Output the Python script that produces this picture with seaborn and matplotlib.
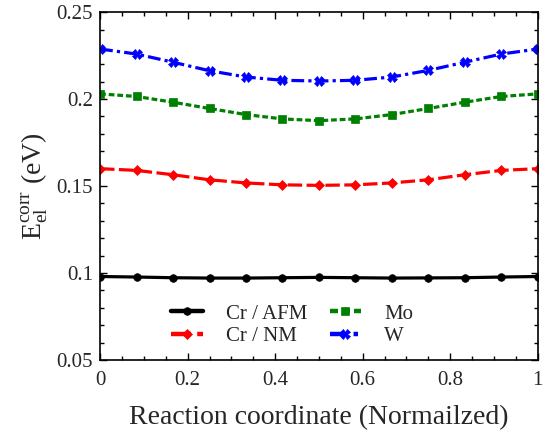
import numpy as np
import pandas as pd
import matplotlib
matplotlib.use("Agg")
import matplotlib.pyplot as plt
import seaborn as sns
from matplotlib.ticker import MultipleLocator, FuncFormatter

# Reaction coordinate (normalized images along the path)
coord = [0, 1/12, 2/12, 3/12, 4/12, 5/12, 6/12, 7/12, 8/12, 9/12, 10/12, 11/12, 1]

cr_afm = [0.0980, 0.0977, 0.0973, 0.0971, 0.0971, 0.0973, 0.0975, 0.0973, 0.0971, 0.0972, 0.0973, 0.0977, 0.0980]
cr_nm = [0.1600, 0.1590, 0.1565, 0.1536, 0.1518, 0.1507, 0.1504, 0.1507, 0.1518, 0.1536, 0.1565, 0.1590, 0.1600]
mo = [0.2030, 0.2015, 0.1982, 0.1946, 0.1911, 0.1886, 0.1876, 0.1886, 0.1911, 0.1946, 0.1982, 0.2015, 0.2030]
w = [0.2288, 0.2259, 0.2212, 0.2163, 0.2127, 0.2108, 0.2104, 0.2108, 0.2127, 0.2165, 0.2212, 0.2259, 0.2288]

labels = ["Cr / AFM", "Cr / NM", "Mo", "W"]

sns.set_theme(style="ticks")
plt.rcParams["font.family"] = ["Liberation Serif", "DejaVu Serif"]
plt.rcParams["mathtext.fontset"] = "custom"
plt.rcParams["mathtext.rm"] = "Liberation Serif"
plt.rcParams["mathtext.it"] = "Liberation Serif:italic"

fig = plt.figure(figsize=(5.47, 4.33), dpi=100)
ax = fig.add_axes([0.183, 0.1686, 0.8, 0.8034])

styles = [
    dict(color="black", marker="o", markersize=5.5, dashes=None),
    dict(color="red", marker="D", markersize=5.5, dashes=(4.5, 1.4)),
    dict(color="green", marker="s", markersize=6, dashes=(1.8, 0.9)),
    dict(color="blue", marker="X", markersize=6.5, dashes=(4.0, 1.3, 1.0, 1.3)),
]

for vals, lab, st in zip([cr_afm, cr_nm, mo, w], labels, styles):
    df = pd.DataFrame({"x": coord, "y": vals})
    sns.lineplot(data=df, x="x", y="y", ax=ax, color=st["color"], marker=st["marker"],
                 markersize=st["markersize"], markeredgewidth=0.5,
                 markeredgecolor=st["color"], linewidth=2.3, label=lab)
    if st["dashes"] is not None:
        ax.lines[-1].set_dashes(st["dashes"])

ax.set_xlim(0, 1)
ax.set_ylim(0.05, 0.25)
ax.xaxis.set_major_locator(MultipleLocator(0.2))
ax.xaxis.set_minor_locator(MultipleLocator(0.05))
ax.yaxis.set_major_locator(MultipleLocator(0.05))
ax.yaxis.set_minor_locator(MultipleLocator(0.01))
ax.xaxis.set_major_formatter(FuncFormatter(lambda v, p: f"{v:g}"))
ax.yaxis.set_major_formatter(FuncFormatter(lambda v, p: f"{round(v, 3):g}"))

ax.tick_params(which="both", direction="in", top=True, right=True, labelsize=15, color="black")
ax.tick_params(axis="x", which="major", pad=8)
ax.tick_params(axis="y", which="major", pad=5)
ax.tick_params(which="major", length=5, width=1)
ax.tick_params(which="minor", length=3, width=1)
for sp in ax.spines.values():
    sp.set_linewidth(1.2)
    sp.set_color("black")

ax.set_xlabel("Reaction coordinate (Normailzed)", fontsize=20, labelpad=11)
ax.set_ylabel(r"$\mathrm{E_{el}^{corr}}$ (eV)", fontsize=20, labelpad=5)

leg = ax.legend(loc="lower left", bbox_to_anchor=(0.12, -0.015), ncol=2, frameon=False,
                fontsize=15, handlelength=1.5, columnspacing=1.1, handletextpad=1.1,
                labelspacing=0.15)
for h in leg.get_lines():
    h.set_linewidth(3.2)

fig.savefig("out.png", dpi=100)
